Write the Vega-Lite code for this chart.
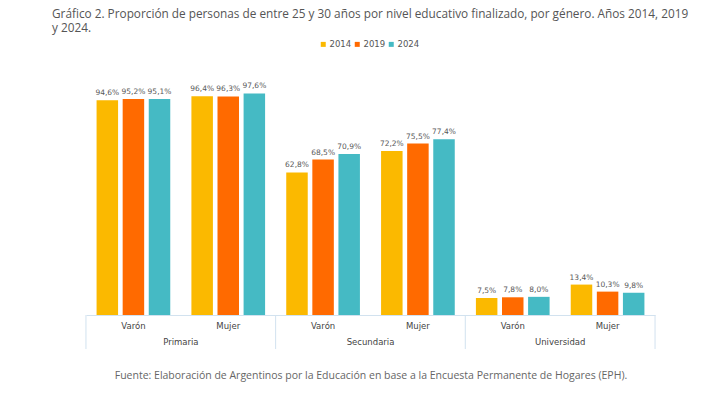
{
  "$schema": "https://vega.github.io/schema/vega-lite/v6.json",
  "autosize": {"type": "none"},
  "padding": {"left": 86, "top": 88, "right": 60, "bottom": 81},
  "width": 569,
  "height": 227,
  "background": "#ffffff",
  "config": {
    "view": {"stroke": null},
    "locale": {"number": {"decimal": ",", "thousands": ".", "grouping": [3], "currency": ["$", ""]}},
    "font": "DejaVu Sans"
  },
  "title": {
    "text": ["Gráfico 2. Proporción de personas de entre 25 y 30 años por nivel educativo finalizado, por género. Años 2014, 2019", "y 2024."],
    "anchor": "start",
    "frame": "group",
    "dx": -34,
    "dy": 35,
    "font": "Open Sans",
    "fontSize": 11.8,
    "fontWeight": "normal",
    "color": "#555555",
    "lineHeight": 14,
    "offset": 40
  },
  "datasets": {
    "datos": [
      {"nivel": "Primaria", "genero": "Varón", "lg": "Primaria|Varón", "anio": "2014", "valor": 0.946},
      {"nivel": "Primaria", "genero": "Varón", "lg": "Primaria|Varón", "anio": "2019", "valor": 0.952},
      {"nivel": "Primaria", "genero": "Varón", "lg": "Primaria|Varón", "anio": "2024", "valor": 0.951},
      {"nivel": "Primaria", "genero": "Mujer", "lg": "Primaria|Mujer", "anio": "2014", "valor": 0.964},
      {"nivel": "Primaria", "genero": "Mujer", "lg": "Primaria|Mujer", "anio": "2019", "valor": 0.963},
      {"nivel": "Primaria", "genero": "Mujer", "lg": "Primaria|Mujer", "anio": "2024", "valor": 0.976},
      {"nivel": "Secundaria", "genero": "Varón", "lg": "Secundaria|Varón", "anio": "2014", "valor": 0.628},
      {"nivel": "Secundaria", "genero": "Varón", "lg": "Secundaria|Varón", "anio": "2019", "valor": 0.685},
      {"nivel": "Secundaria", "genero": "Varón", "lg": "Secundaria|Varón", "anio": "2024", "valor": 0.709},
      {"nivel": "Secundaria", "genero": "Mujer", "lg": "Secundaria|Mujer", "anio": "2014", "valor": 0.722},
      {"nivel": "Secundaria", "genero": "Mujer", "lg": "Secundaria|Mujer", "anio": "2019", "valor": 0.755},
      {"nivel": "Secundaria", "genero": "Mujer", "lg": "Secundaria|Mujer", "anio": "2024", "valor": 0.774},
      {"nivel": "Universidad", "genero": "Varón", "lg": "Universidad|Varón", "anio": "2014", "valor": 0.075},
      {"nivel": "Universidad", "genero": "Varón", "lg": "Universidad|Varón", "anio": "2019", "valor": 0.078},
      {"nivel": "Universidad", "genero": "Varón", "lg": "Universidad|Varón", "anio": "2024", "valor": 0.080},
      {"nivel": "Universidad", "genero": "Mujer", "lg": "Universidad|Mujer", "anio": "2014", "valor": 0.134},
      {"nivel": "Universidad", "genero": "Mujer", "lg": "Universidad|Mujer", "anio": "2019", "valor": 0.103},
      {"nivel": "Universidad", "genero": "Mujer", "lg": "Universidad|Mujer", "anio": "2024", "valor": 0.098}
    ],
    "niveles": [
      {"nivel": "Primaria", "lg": "Primaria|Varón"},
      {"nivel": "Secundaria", "lg": "Secundaria|Varón"},
      {"nivel": "Universidad", "lg": "Universidad|Varón"}
    ],
    "borde": [
      {"lg": "Universidad|Mujer"}
    ]
  },
  "resolve": {"scale": {"x": "shared", "y": "shared"}},
  "layer": [
    {
      "data": {"name": "datos"},
      "mark": {"type": "bar"},
      "encoding": {
        "x": {
          "field": "lg",
          "type": "nominal",
          "sort": ["Primaria|Varón", "Primaria|Mujer", "Secundaria|Varón", "Secundaria|Mujer", "Universidad|Varón", "Universidad|Mujer"],
          "scale": {"domain": ["Primaria|Varón", "Primaria|Mujer", "Secundaria|Varón", "Secundaria|Mujer", "Universidad|Varón", "Universidad|Mujer"], "paddingInner": 0.223, "paddingOuter": 0.1115},
          "axis": {
            "title": "Fuente: Elaboración de Argentinos por la Educación en base a la Encuesta Permanente de Hogares (EPH).",
            "titleFont": "Open Sans",
            "titleFontSize": 10.5,
            "titleFontWeight": "normal",
            "titleColor": "#666666",
            "titlePadding": 41,
            "labelExpr": "split(datum.label, '|')[1]",
            "labelAngle": 0,
            "labelFontSize": 8.5,
            "labelColor": "#444444",
            "labelPadding": 6,
            "ticks": false,
            "tickSize": 0,
            "domain": true,
            "domainColor": "#d2e2ef",
            "domainWidth": 1,
            "grid": false
          }
        },
        "xOffset": {
          "field": "anio",
          "type": "nominal",
          "scale": {"domain": ["2014", "2019", "2024"], "paddingInner": 0.176, "paddingOuter": 0}
        },
        "y": {
          "field": "valor",
          "type": "quantitative",
          "scale": {"domain": [0, 1], "nice": false, "zero": true},
          "axis": null
        },
        "color": {
          "field": "anio",
          "type": "nominal",
          "scale": {"domain": ["2014", "2019", "2024"], "range": ["#FBB900", "#FF6A00", "#45BAC4"]},
          "legend": {
            "title": null,
            "orient": "none",
            "direction": "horizontal",
            "legendX": 233,
            "legendY": -48,
            "symbolType": "square",
            "symbolSize": 25,
            "symbolStrokeWidth": 0,
            "labelFontSize": 8.5,
            "labelColor": "#555555",
            "labelOffset": 2,
            "columnPadding": 1
          }
        }
      }
    },
    {
      "data": {"name": "datos"},
      "mark": {"type": "text", "baseline": "bottom", "dy": -3, "fontSize": 7.5, "color": "#595959"},
      "encoding": {
        "x": {"field": "lg", "type": "nominal"},
        "xOffset": {"field": "anio", "type": "nominal"},
        "y": {"field": "valor", "type": "quantitative"},
        "text": {"field": "valor", "type": "quantitative", "format": ".1%"}
      }
    },
    {
      "data": {"name": "niveles"},
      "mark": {"type": "rule", "color": "#d2e2ef", "strokeWidth": 1},
      "encoding": {
        "x": {"field": "lg", "type": "nominal", "bandPosition": -0.144},
        "y": {"datum": 0},
        "y2": {"datum": -0.15}
      }
    },
    {
      "data": {"name": "borde"},
      "mark": {"type": "rule", "color": "#d2e2ef", "strokeWidth": 1},
      "encoding": {
        "x": {"field": "lg", "type": "nominal", "bandPosition": 1.144},
        "y": {"datum": 0},
        "y2": {"datum": -0.15}
      }
    },
    {
      "data": {"name": "niveles"},
      "mark": {"type": "text", "baseline": "middle", "fontSize": 8.5, "color": "#444444"},
      "encoding": {
        "x": {"field": "lg", "type": "nominal", "bandPosition": 1.144},
        "y": {"datum": -0.12},
        "text": {"field": "nivel", "type": "nominal"}
      }
    }
  ]
}
